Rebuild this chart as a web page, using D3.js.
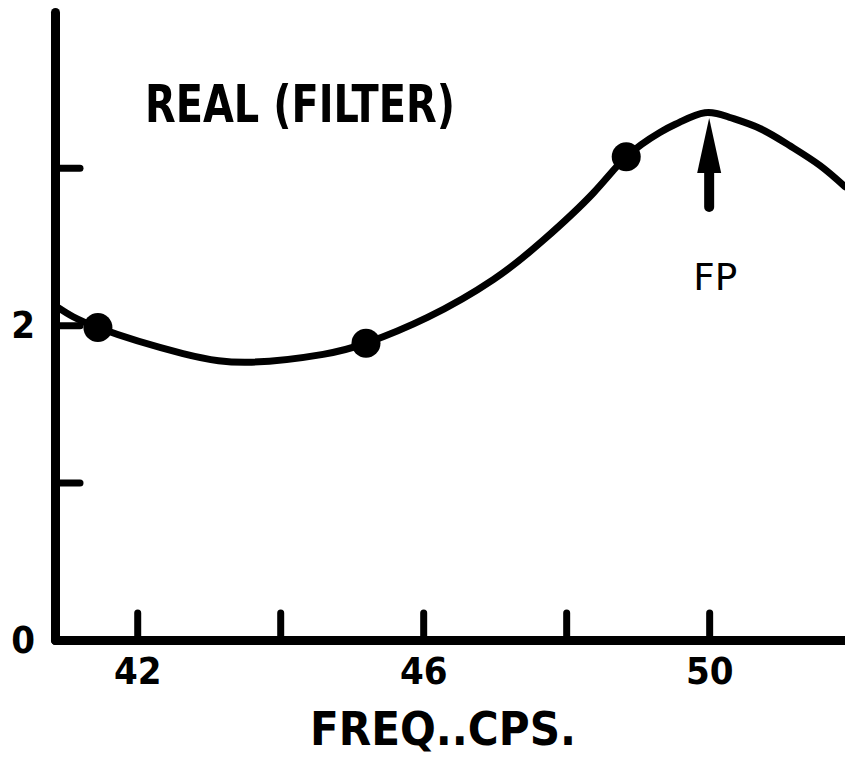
<!DOCTYPE html>
<html>
<head>
<meta charset="utf-8">
<script src="https://cdn.jsdelivr.net/npm/d3@7"></script>
<style>
  html, body { margin: 0; padding: 0; background: #fff; }
  svg { display: block; }
  text { font-family: "DejaVu Sans Condensed", "DejaVu Sans", sans-serif; fill: #000; }
</style>
</head>
<body>
<svg id="chart" width="845" height="757"></svg>
<script>
// Frequency (cps) and real part of the filter response along the smooth curve
const curveFreq = [40.9, 41.45, 42.64, 43.6, 44.6, 45.2, 46.06, 46.98, 47.68, 48.38, 48.84, 49.31, 49.59, 49.94, 50.29, 50.71, 51.13, 51.55, 51.9];
const curveReal = [2.11, 1.985, 1.82, 1.765, 1.815, 1.886, 2.05, 2.29, 2.54, 2.84, 3.07, 3.225, 3.29, 3.35, 3.32, 3.25, 3.14, 3.015, 2.88];

// Measured points
const pointFreq = [41.45, 45.2, 48.84];
const pointReal = [1.985, 1.886, 3.07];

// Axis ticks and their labels
const xTicks = [42, 44, 46, 48, 50];
const xTickLabels = ["42", "", "46", "", "50"];
const yTicks = [0, 1, 2, 3];
const yTickLabels = ["0", "", "2", ""];

// Peak frequency marker
const peakFreq = 50;

const svg = d3.select("#chart");

const x = d3.scaleLinear().domain([40.85, 51.9]).range([55, 845]);
const y = d3.scaleLinear().domain([0, 3.99]).range([640, 12]);

// X axis with inward ticks
const xAxis = d3.axisBottom(x)
  .tickValues(xTicks)
  .tickSizeInner(-27)
  .tickSizeOuter(0)
  .tickFormat((d, i) => xTickLabels[i]);

const gx = svg.append("g").attr("transform", `translate(0,${y(0)})`).call(xAxis);
gx.select(".domain").attr("stroke", "#000").attr("stroke-width", 9).attr("stroke-linecap", "round");
gx.selectAll(".tick line").attr("stroke", "#000").attr("stroke-width", 7).attr("stroke-linecap", "round");
gx.selectAll(".tick text")
  .attr("y", 44).attr("dy", 0)
  .style("font-size", "38px").style("font-weight", "bold")
  .attr("fill", "#000");

// Y axis with inward ticks
const yAxis = d3.axisLeft(y)
  .tickValues(yTicks)
  .tickSizeInner(-25)
  .tickSizeOuter(0)
  .tickFormat((d, i) => yTickLabels[i]);

const gy = svg.append("g").attr("transform", `translate(${x(40.85)},0)`).call(yAxis);
gy.select(".domain").attr("stroke", "#000").attr("stroke-width", 9).attr("stroke-linecap", "round");
gy.selectAll(".tick line").attr("stroke", "#000").attr("stroke-width", 7).attr("stroke-linecap", "round")
  .filter(d => d === 0).remove();
gy.selectAll(".tick text")
  .attr("x", -20).attr("dy", "0.33em")
  .style("font-size", "38px").style("font-weight", "bold")
  .attr("fill", "#000");

// Response curve
const line = d3.line()
  .x((d, i) => x(curveFreq[i]))
  .y((d, i) => y(curveReal[i]))
  .curve(d3.curveNatural);

svg.append("path")
  .datum(curveFreq)
  .attr("d", line)
  .attr("fill", "none")
  .attr("stroke", "#000")
  .attr("stroke-width", 7)
  .attr("stroke-linecap", "round")
  .attr("stroke-linejoin", "round");

// Measured points
svg.selectAll("circle.pt")
  .data(pointFreq)
  .join("circle")
  .attr("class", "pt")
  .attr("cx", d => x(d))
  .attr("cy", (d, i) => y(pointReal[i]))
  .attr("r", 14.5)
  .attr("fill", "#000");

// Arrow pointing at the peak
const ax = x(peakFreq);
svg.append("line")
  .attr("x1", ax).attr("x2", ax)
  .attr("y1", 207).attr("y2", 165)
  .attr("stroke", "#000").attr("stroke-width", 10).attr("stroke-linecap", "round");
svg.append("path")
  .attr("d", `M${ax},118 L${ax - 12},173 L${ax + 12},173 Z`)
  .attr("fill", "#000");

svg.append("text")
  .attr("x", ax - 16).attr("y", 290)
  .attr("textLength", 44).attr("lengthAdjust", "spacingAndGlyphs")
  .style("font-size", "38px")
  .text("FP");

// Titles
svg.append("text")
  .attr("x", 145).attr("y", 122)
  .attr("textLength", 310).attr("lengthAdjust", "spacingAndGlyphs")
  .style("font-size", "52px").style("font-weight", "bold")
  .text("REAL (FILTER)");

svg.append("text")
  .attr("x", 310).attr("y", 745)
  .attr("textLength", 266).attr("lengthAdjust", "spacingAndGlyphs")
  .style("font-size", "46px").style("font-weight", "bold")
  .text("FREQ..CPS.");
</script>
</body>
</html>
